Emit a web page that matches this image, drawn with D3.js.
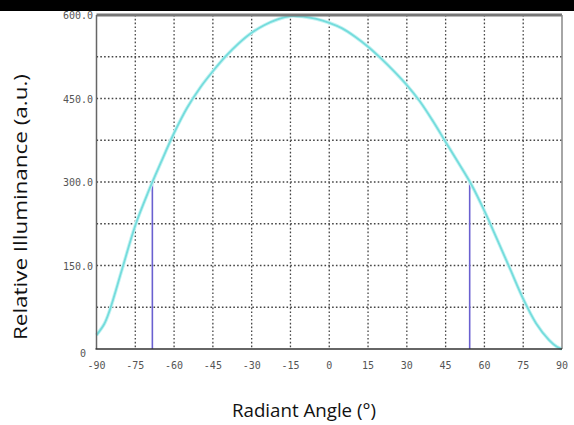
<!DOCTYPE html>
<html><head><meta charset="utf-8">
<script src="https://cdn.jsdelivr.net/npm/d3@7"></script>
<style>body{margin:0;background:#fff}svg{display:block}</style>
</head><body><svg id="c" width="574" height="425"></svg>
<script>
const angles = [-90,-87,-85,-80,-75,-70,-65,-60,-55,-50,-45,-40,-35,-30,-25,-20,-15,-10,-5,0,5,10,15,20,25,30,35,40,45,50,55,60,65,70,75,80,85,88,90];
const illuminance = [25,45,68,145,222,282,336,388,433,469,499,526,549,568,582,592,598,597,593,586,576,561,543,522,499,474,445,410,372,334,295,248,196,143,90,46,16,4,0];
const halfAngles = [-68.4, 54.3];
const halfValue = 300;
const xTicks = [-90,-75,-60,-45,-30,-15,0,15,30,45,60,75,90];
const yGrid = [0,75,150,225,300,375,450,525,600];
const yTickLabels = ["0","150.0","300.0","450.0","600.0"];
const yTickValues = [0,150,300,450,600];
const xTitle = "Radiant Angle (°)";
const yTitle = "Relative Illuminance (a.u.)";

const svg = d3.select("#c");
const L=96.5, R=562, T=15, B=349;
const x = d3.scaleLinear().domain([-90,90]).range([L,R]);
const y = d3.scaleLinear().domain([0,600]).range([B,T]);

svg.append("rect").attr("x",0).attr("y",0).attr("width",574).attr("height",11).attr("fill","#000");

const grid = svg.append("g").attr("stroke","#444").attr("stroke-width",1.3).attr("stroke-dasharray","1.6,2.2");
grid.selectAll("line.v").data(xTicks.slice(1,-1)).join("line")
  .attr("x1",d=>x(d)).attr("x2",d=>x(d)).attr("y1",T).attr("y2",B);
grid.selectAll("line.h").data(yGrid.slice(1,-1)).join("line")
  .attr("x1",L).attr("x2",R).attr("y1",d=>y(d)).attr("y2",d=>y(d));

// half-max lines
svg.selectAll("line.half").data(halfAngles).join("line")
  .attr("x1",d=>x(d)).attr("x2",d=>x(d)).attr("y1",y(halfValue)).attr("y2",B)
  .attr("stroke","#6a60d0").attr("stroke-width",1.6);

// curve
const line = d3.line().x((d,i)=>x(angles[i])).y(d=>y(d)).curve(d3.curveCatmullRom.alpha(0.5));
svg.append("path").datum(illuminance).attr("d",line)
  .attr("fill","none").attr("stroke","#c6f3f3").attr("stroke-width",3.6);
svg.append("path").datum(illuminance).attr("d",line)
  .attr("fill","none").attr("stroke","#74dcdc").attr("stroke-width",1.8);

// frame
svg.append("line").attr("x1",L).attr("x2",R).attr("y1",T).attr("y2",T).attr("stroke","#777").attr("stroke-width",3);
svg.append("line").attr("x1",L).attr("x2",L).attr("y1",T).attr("y2",B).attr("stroke","#666").attr("stroke-width",1.5);
svg.append("line").attr("x1",R).attr("x2",R).attr("y1",T).attr("y2",B).attr("stroke","#888").attr("stroke-width",1.5);
svg.append("line").attr("x1",L-1).attr("x2",R).attr("y1",B).attr("y2",B).attr("stroke","#333").attr("stroke-width",1.5);

// x tick labels
svg.append("g").selectAll("text").data(xTicks).join("text")
  .attr("x",d=>x(d)).attr("y",369).attr("text-anchor","middle")
  .attr("font-family","DejaVu Sans Mono").attr("font-size",10).attr("fill","#555")
  .text(d=>d);

// y tick labels
svg.append("g").selectAll("text").data(yTickValues).join("text")
  .attr("x",d=>d===0?80:93).attr("y",d=>d===0?y(d)+8:y(d)+4)
  .attr("text-anchor",d=>d===0?"start":"end")
  .attr("font-family","DejaVu Sans Mono").attr("font-size",10).attr("fill","#555")
  .text((d,i)=>yTickLabels[i]);

svg.append("text").attr("x",304).attr("y",417).attr("text-anchor","middle")
  .attr("font-family","Open Sans").attr("font-size",18.5).attr("fill","#111")
  .attr("textLength",144).attr("lengthAdjust","spacingAndGlyphs").text(xTitle);
svg.append("text").attr("transform","translate(27,207) rotate(-90)").attr("text-anchor","middle")
  .attr("font-family","Open Sans").attr("font-size",19).attr("fill","#111")
  .attr("textLength",266).attr("lengthAdjust","spacingAndGlyphs").text(yTitle);
</script></body></html>
